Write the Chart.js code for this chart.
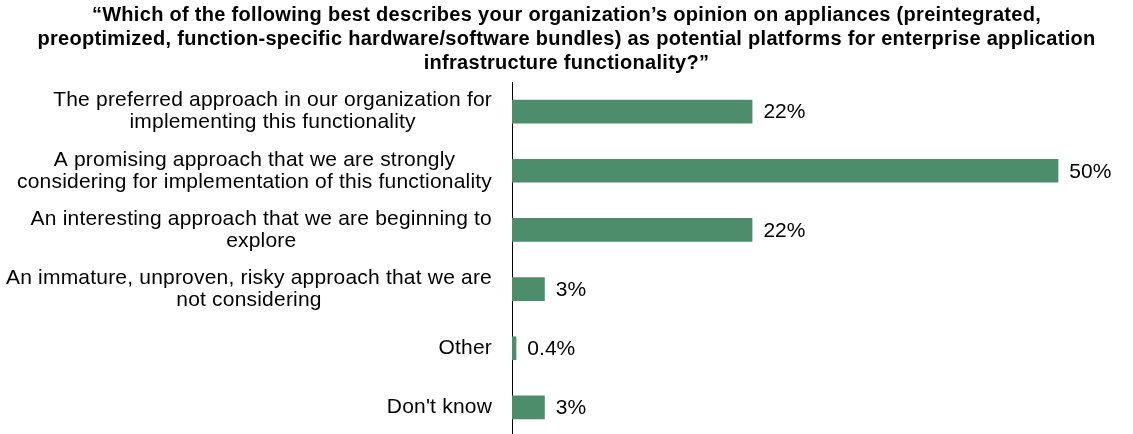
<!DOCTYPE html>
<html>
<head>
<meta charset="utf-8">
<script src="https://cdn.jsdelivr.net/npm/chart.js@4/dist/chart.umd.min.js"></script>
<style>
  html, body { margin: 0; padding: 0; background: #fff; overflow: hidden; }
  #wrap { width: 1133px; height: 440px; }
</style>
</head>
<body>
<div id="wrap"><canvas id="chart" width="1133" height="440"></canvas></div>
<script>
const titleLines = [
  '\u201CWhich of the following best describes your organization\u2019s opinion on appliances (preintegrated,',
  'preoptimized, function-specific hardware/software bundles) as potential platforms for enterprise application',
  'infrastructure functionality?\u201D'
];

const categories = [
  ['The preferred approach in our organization for', 'implementing this functionality'],
  ['A promising approach that we are strongly', 'considering for implementation of this functionality'],
  ['An interesting approach that we are beginning to', 'explore'],
  ['An immature, unproven, risky approach that we are', 'not considering'],
  ['Other'],
  ["Don't know"]
];

const percents = [22, 50, 22, 3, 0.4, 3];

const BAR_COLOR = '#4E8D6B';
const FONT = '"Liberation Sans", Arial, sans-serif';

// three-line bold question above the plot
const questionTitle = {
  id: 'questionTitle',
  afterDraw(chart) {
    const ctx = chart.ctx;
    ctx.save();
    ctx.font = 'bold 20px ' + FONT;
    ctx.letterSpacing = '0.3px';
    ctx.fillStyle = '#000';
    ctx.textAlign = 'center';
    ctx.textBaseline = 'alphabetic';
    titleLines.forEach((l, i) => ctx.fillText(l, chart.width / 2, 21 + i * 24));
    ctx.restore();
  }
};

// category text: lines centred on each other, block right-aligned against the axis
const categoryLabels = {
  id: 'categoryLabels',
  afterDraw(chart) {
    const ctx = chart.ctx;
    const yScale = chart.scales.y;
    const right = chart.chartArea.left - 20;
    ctx.save();
    ctx.font = '21px ' + FONT;
    ctx.letterSpacing = '0.2px';
    ctx.fillStyle = '#000';
    ctx.textAlign = 'center';
    ctx.textBaseline = 'middle';
    categories.forEach((lines, i) => {
      const cy = yScale.getPixelForValue(i);
      const w = Math.max(...lines.map(l => ctx.measureText(l).width));
      const cx = right - w / 2;
      const lh = 22;
      const top = cy - (lines.length - 1) * lh / 2;
      lines.forEach((l, j) => ctx.fillText(l, cx, top + j * lh));
    });
    ctx.restore();
  }
};

// percentage text just past the end of each bar
const valueLabels = {
  id: 'valueLabels',
  afterDatasetsDraw(chart) {
    const ctx = chart.ctx;
    const meta = chart.getDatasetMeta(0);
    ctx.save();
    ctx.font = '21px ' + FONT;
    ctx.fillStyle = '#000';
    ctx.textAlign = 'left';
    ctx.textBaseline = 'middle';
    meta.data.forEach((bar, i) => {
      ctx.fillText(percents[i] + '%', bar.x + 11, bar.y + 1);
    });
    ctx.restore();
  }
};

new Chart(document.getElementById('chart'), {
  type: 'bar',
  data: {
    labels: categories.map(c => c.join(' ')),
    datasets: [{
      data: percents,
      backgroundColor: BAR_COLOR,
      borderWidth: 0,
      barPercentage: 0.4,
      categoryPercentage: 1
    }]
  },
  options: {
    indexAxis: 'y',
    responsive: false,
    animation: false,
    events: [],
    layout: { padding: { left: 504, right: 20, top: 82, bottom: 3 } },
    plugins: {
      legend: { display: false },
      tooltip: { enabled: false },
      title: { display: false }
    },
    scales: {
      x: {
        display: false,
        min: 0,
        max: 55
      },
      y: {
        ticks: { display: false },
        grid: { display: false },
        border: { display: true, color: '#000', width: 1 }
      }
    }
  },
  plugins: [questionTitle, categoryLabels, valueLabels]
});
</script>
</body>
</html>
